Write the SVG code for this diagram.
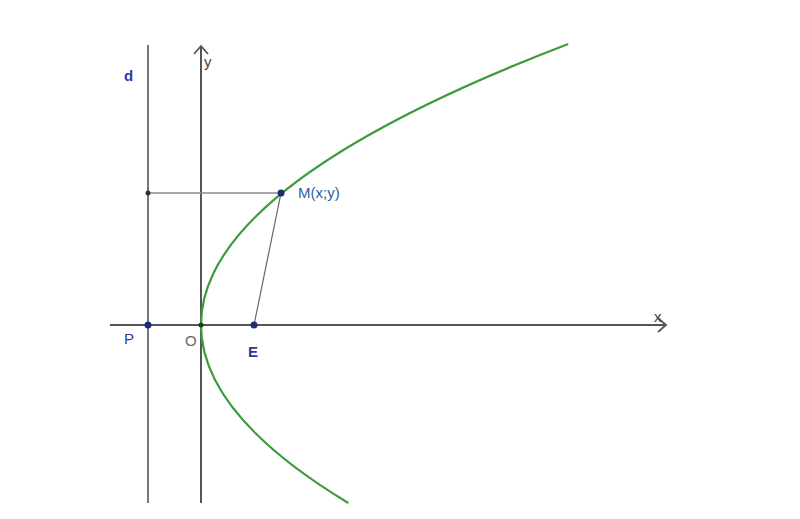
<svg xmlns="http://www.w3.org/2000/svg" width="800" height="519" viewBox="0 0 800 519">
<style>
.ax{stroke:#555;stroke-width:2;fill:none}
.ln{stroke:#888;stroke-width:1.5;fill:none}
.pt{fill:#1c2c78}
.lbl{font-family:"Liberation Sans",Arial,sans-serif;font-size:15px}
</style>
<rect width="800" height="519" fill="#fff"/>
<g id="connectors">
<line id="directrix" class="ln" x1="148" y1="45" x2="148" y2="503" style="stroke-width:2;stroke:#777"/>
<line id="x-axis" class="ax" x1="110" y1="325" x2="666" y2="325"/>
<path class="ax" d="M658,318 L666,325 L658,332" style="stroke-width:1.8"/>
<line id="y-axis" class="ax" x1="201" y1="503" x2="201" y2="46"/>
<path class="ax" d="M194,54 L201,46 L208,54" style="stroke-width:1.8"/>
<line class="ln" x1="148" y1="193" x2="281" y2="193"/>
<line class="ln" x1="281" y1="193" x2="254" y2="325" style="stroke:#666;stroke-width:1.2"/>
<path id="parabola" d="M568.2,44 Q-31.6,273.5 348.3,503" fill="none" stroke="#3c9c3c" stroke-width="2.2"/>
</g>
<g id="P"><circle class="pt" cx="148" cy="325" r="3.5"/><text class="lbl" x="124" y="344" fill="#2a3a9e" font-size="17">P</text></g>
<g id="O"><circle cx="201" cy="325" r="2.5" fill="#1e3a1e"/><text class="lbl" x="185" y="346" fill="#666" font-size="16">O</text></g>
<g id="E"><circle class="pt" cx="254" cy="325" r="3.5"/><text class="lbl" x="248" y="357" fill="#2a3a9e" font-weight="bold" font-size="17">E</text></g>
<g id="M"><circle class="pt" cx="281" cy="193" r="3.5"/><text class="lbl" x="298" y="198" fill="#2a60a8" font-size="16">M(x;y)</text></g>
<g id="H"><circle cx="148" cy="193" r="2.5" fill="#333"/></g>
<g id="d"><text class="lbl" x="124" y="81" fill="#2a3ab0" font-weight="bold" font-size="19">d</text></g>
<g id="ylab"><text class="lbl" x="204" y="67" fill="#444" font-size="16">y</text></g>
<g id="xlab"><text class="lbl" x="654" y="322" fill="#444" font-size="15">x</text></g>
</svg>
